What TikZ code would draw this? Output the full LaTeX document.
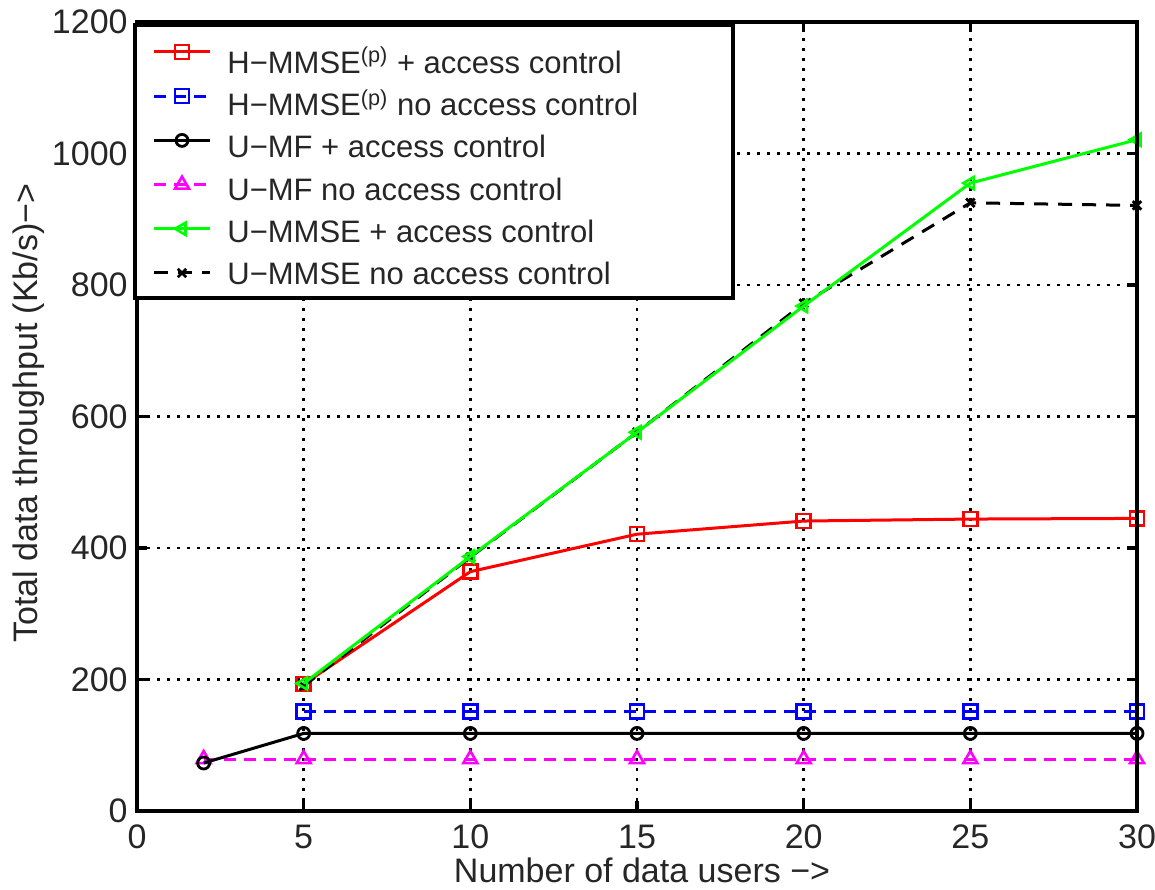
\documentclass[tikz,border=0pt]{standalone}
\usepackage{fontspec}
\setmainfont{Liberation Sans}
\usetikzlibrary{plotmarks}

\definecolor{purered}{RGB}{255,0,0}
\definecolor{pureblue}{RGB}{0,0,255}
\definecolor{puregreen}{RGB}{0,255,0}
\definecolor{puremagenta}{RGB}{255,0,255}

\tikzset{
    axisframe/.style={line width=2pt},
    gridline/.style={line width=1.2pt, dash pattern=on 1.6pt off 3.4pt},
    tickmark/.style={line width=1.6pt},
    ticklabel/.style={font=\fontsize{17}{20}\selectfont, text=black!85, inner sep=0pt},
    legtext/.style={font=\fontsize{15.5}{18}\selectfont, text=black!85, inner sep=0pt, anchor=base west},
    % curve styles
    hac/.style={purered, line width=1.5pt, mark=square, mark size=3.5pt, mark options={solid, line width=1.3pt}},
    hnoac/.style={pureblue, line width=1.5pt, dash pattern=on 6pt off 4pt, mark=square, mark size=3.5pt, mark options={solid, line width=1.3pt}},
    mfac/.style={black, line width=1.5pt, mark=o, mark size=3pt, mark options={solid, line width=1.4pt}},
    mfnoac/.style={puremagenta, line width=1.5pt, dash pattern=on 6pt off 4pt, mark=triangle, mark size=4pt, mark options={solid, line width=1.3pt}},
    mmseac/.style={puregreen, line width=1.5pt, mark=triangle, mark size=3.5pt, mark options={solid, rotate=90, line width=1.3pt}},
    mmsenoac/.style={black, line width=1.5pt, dash pattern=on 7pt off 5pt, mark=x, mark size=3pt, mark options={solid, line width=1.4pt}},
}

\begin{document}
\begin{tikzpicture}[x=0.5pt, y=0.5pt]
    \useasboundingbox (0,0) rectangle (1155,889);

    \begin{scope}[shift={(68.5pt,39pt)}, x=16.6667pt, y=0.32875pt]
        % Rejilla
        \foreach \x in {5,10,...,25} {
            \draw[gridline] (\x,0) -- (\x,1200);
        }
        \foreach \y in {200,400,...,1000} {
            \draw[gridline] (0,\y) -- (30,\y);
        }

        % Marcas de los ejes
        \foreach \x in {5,10,...,25} {
            \draw[tickmark] (\x,0) -- ++(0pt,5pt);
            \draw[tickmark] (\x,1200) -- ++(0pt,-5pt);
        }
        \foreach \y in {200,400,...,1000} {
            \draw[tickmark] (0,\y) -- ++(5pt,0pt);
            \draw[tickmark] (30,\y) -- ++(-5pt,0pt);
        }

        % Etiquetas de los ejes
        \foreach \x in {0,5,...,30} {
            \node[ticklabel, anchor=north] (xt\x) at (\x,-21) {\x};
        }
        \foreach \y in {0,200,...,1200} {
            \node[ticklabel, anchor=east] (yt\y) at (-0.27,\y) {\y};
        }
        \node[ticklabel, anchor=north] (xlabel) at (15.15,-70) {Number of data users −>};
        \node[ticklabel, anchor=north, rotate=90] (ylabel) at (-3.75,605) {Total data throughput (Kb/s)−>};

        % Curvas
        \draw[hnoac] plot coordinates {(5,151) (10,151) (15,151) (20,151) (25,151) (30,151)};
        \draw[mfnoac] plot coordinates {(2,79) (5,79) (10,79) (15,79) (20,79) (25,79) (30,79)};
        \draw[mfac] plot coordinates {(2,73) (5,118) (10,118) (15,118) (20,118) (25,118) (30,118)};
        \draw[hac] plot coordinates {(5,193) (10,364) (15,421) (20,441) (25,444) (30,445)};
        \draw[mmsenoac] plot coordinates {(5,190) (10,386) (15,576) (20,772) (25,925) (30,921)};
        \draw[mmseac] plot coordinates {(5,194) (10,387) (15,576) (20,768) (25,955) (30,1021)};

        % Marco
        \draw[axisframe] (0,0) rectangle (30,1200);
    \end{scope}

    % Leyenda
    \draw[axisframe, fill=white] (135,591) rectangle (733,864);
    \foreach \k/\sty/\txt [evaluate=\k as \ly using 837-44.2*\k,
                           evaluate=\k as \ty using 815.7-42.3*\k] in
        {0/hac/{H−MMSE\textsuperscript{(p)} + access control},
         1/hnoac/{H−MMSE\textsuperscript{(p)} no access control},
         2/mfac/{U−MF + access control},
         3/mfnoac/{U−MF no access control},
         4/mmseac/{U−MMSE + access control},
         5/mmsenoac/{U−MMSE no access control}} {
        \draw[\sty, mark indices={2}] plot coordinates {(154,\ly) (182,\ly) (210,\ly)};
        \node[legtext] (leg\k) at (227,\ty) {\txt};
    }
\end{tikzpicture}
\end{document}
